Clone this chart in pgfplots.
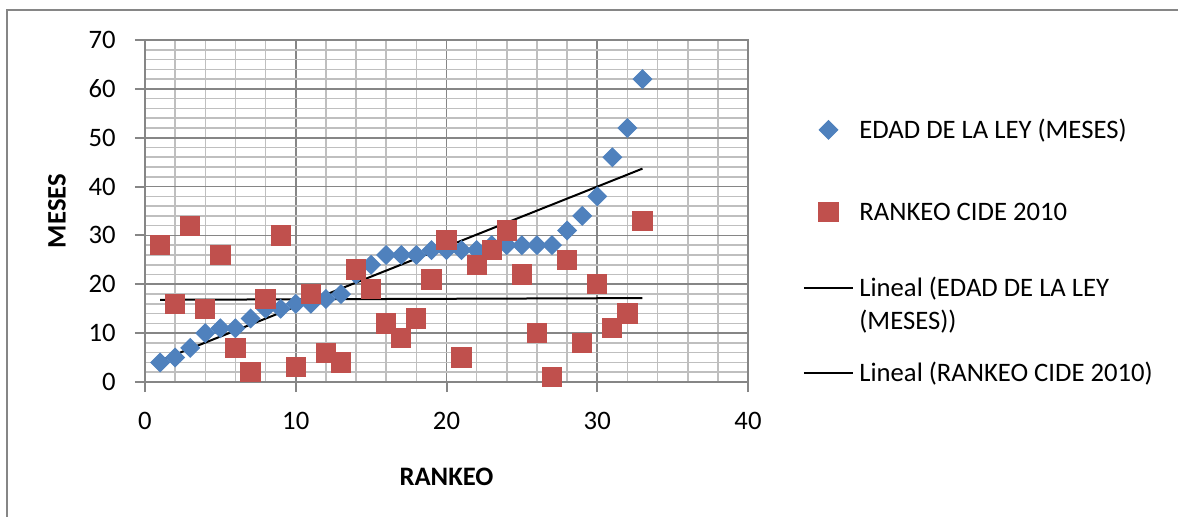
\documentclass[border=0pt]{standalone}
\usepackage{pgfplots}
\pgfplotsset{compat=1.18}
\usepackage{pgfplotstable}
\usepackage{fontspec}
\setmainfont{Carlito}
\definecolor{exblue}{HTML}{4F81BD}
\definecolor{exred}{HTML}{C0504D}
\definecolor{gridmaj}{HTML}{868686}
\definecolor{gridmin}{HTML}{BFBFBF}

\pgfplotstableread{
x a b
1 4 28
2 5 16
3 7 32
4 10 15
5 11 26
6 11 7
7 13 2
8 15 17
9 15 30
10 16 3
11 16 18
12 17 6
13 18 4
14 22 23
15 24 19
16 26 12
17 26 9
18 26 13
19 27 21
20 27 29
21 27 5
22 27 24
23 28 27
24 28 31
25 28 22
26 28 10
27 28 1
28 31 25
29 34 8
30 38 20
31 46 11
32 52 14
33 62 33
}\datatable

\begin{document}
\fontsize{10}{12.4}\selectfont
\begin{tikzpicture}
\useasboundingbox (0,0) rectangle (441.75pt,-193.875pt);
\draw[gridmaj, line width=0.75pt] (2.625pt,-200pt) -- (2.625pt,-3.75pt) -- (450pt,-3.75pt);
\begin{axis}[
  at={(54.375pt,-143.25pt)}, anchor=south west,
  width=226.125pt, height=128.25pt, scale only axis,
  xmin=0, xmax=40, ymin=0, ymax=70,
  xtick={0,10,20,30,40}, ytick={0,10,20,30,40,50,60,70},
  minor x tick num=4, minor y tick num=4,
  grid=both,
  major grid style={gridmaj, line width=0.6pt},
  minor grid style={gridmin, line width=0.6pt},
  axis line style={gridmaj, line width=0.75pt},
  tick style={gridmaj, line width=0.75pt},
  major tick length=3.75pt,
  minor tick length=0pt,
  tick align=outside,
  tick pos=left,
  font=\fontsize{10}{12.4}\selectfont,
  /pgf/number format/assume math mode=true,
  ticklabel style={font=\fontsize{10}{12.4}\selectfont},
  yticklabel style={anchor=east, inner sep=0pt, xshift=-7.1pt},
  xticklabel style={anchor=north, inner sep=0pt, yshift=-7.5pt},
  every axis y label/.style={at={(axis description cs:-0.146,0.5)}, rotate=90, anchor=center, font=\fontsize{10}{12.4}\selectfont\bfseries},
  every axis x label/.style={at={(axis description cs:0.5,-0.278)}, anchor=center, font=\fontsize{10}{12.4}\selectfont\bfseries},
  xlabel={RANKEO},
  ylabel={MESES},
  legend image code/.code={\draw[mark repeat=2,mark phase=2,#1] plot coordinates {(0pt,3.2pt)(9.2pt,3.2pt)(18.4pt,3.2pt)};},
  legend style={at={(rel axis cs:1.0912,0.785)}, anchor=north west, draw=none, fill=none,
    inner sep=0pt, outer sep=0pt, row sep=18.9pt, column sep=0pt,
    font=\fontsize{10}{12.4}\selectfont,
    cells={anchor=base west, inner sep=0pt}},
]
\addplot[only marks, mark=square*, mark size=2.45pt, mark options={rotate=45, fill=exblue, draw=exblue}]
  table[x=x, y=a] {\datatable};
\addlegendentry{EDAD DE LA LEY (MESES)}
\addplot[only marks, mark=square*, mark size=3.6pt, mark options={fill=exred, draw=exred}]
  table[x=x, y=b] {\datatable};
\addlegendentry{RANKEO CIDE 2010}
\addplot[black, line width=0.75pt, no marks]
  table[x=x, y={create col/linear regression={y=a}}] {\datatable};
\addlegendentry{\raisebox{0pt}[4.1pt][3.25pt]{\begin{tabular}[t]{@{}l@{}}Lineal (EDAD DE LA LEY\\(MESES))\end{tabular}}}
\addplot[black, line width=0.75pt, no marks]
  table[x=x, y={create col/linear regression={y=b}}] {\datatable};
\addlegendentry{Lineal (RANKEO CIDE 2010)}
\end{axis}
\end{tikzpicture}
\end{document}
